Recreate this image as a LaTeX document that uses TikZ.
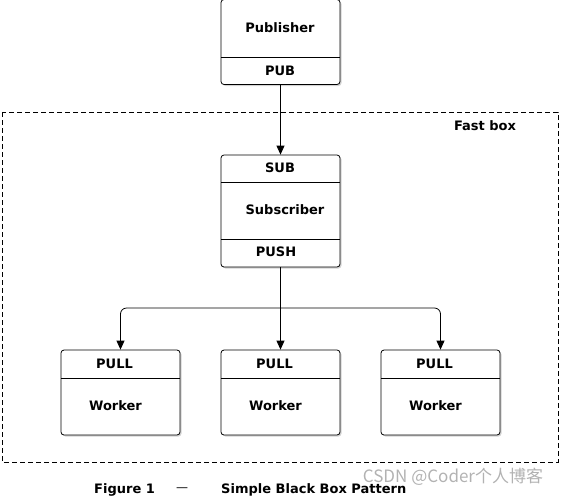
\documentclass[tikz,border=0pt]{standalone}
\usepackage{fontspec}
\setmainfont{DejaVu Sans}
\newfontfamily\cjk{Noto Sans CJK SC}
\usetikzlibrary{arrows.meta,shadows}
\tikzset{
  box/.style={draw, thick, fill=white, rounded corners=3pt, drop shadow={shadow xshift=1.5pt, shadow yshift=-1.5pt, opacity=0.35}, inner sep=0pt},
  lbl/.style={font=\bfseries\fontsize{13}{15}\selectfont, inner sep=0pt},
  conn/.style={thick, -{Triangle[length=9pt,width=8pt]}},
}
\begin{document}
\begin{tikzpicture}[x=1pt,y=-1pt]
\useasboundingbox (0,0) rectangle (561,498);
% fast box
\draw[thick, dash pattern=on 5pt off 3pt] (2,112) rectangle (558,462);
\node[lbl] (fast) at (485,126) {Fast box};
% publisher
\node[box, minimum width=119pt, minimum height=85pt] (pub) at (280.5,42) {};
\draw[thick] (221,57) -- (340,57);
\node[lbl] (publ) at (280,28) {Publisher};
\node[lbl] (pubs) at (280,71) {PUB};
% subscriber
\node[box, minimum width=119pt, minimum height=112pt] (sub) at (280.5,211) {};
\draw[thick] (221,182) -- (340,182);
\draw[thick] (221,239) -- (340,239);
\node[lbl] (subs) at (280,168) {SUB};
\node[lbl] (subl) at (285,210) {Subscriber};
\node[lbl] (push) at (276,252) {PUSH};
% workers
\foreach \n/\x in {w1/120.5, w2/280.5, w3/440.5}{
  \node[box, minimum width=119pt, minimum height=85pt] (\n) at (\x,392.5) {};
  \draw[thick] (\x-59.5,378) -- (\x+59.5,378);
  \node[lbl] (\n p) at (\x-6,364) {PULL};
  \node[lbl] (\n l) at (\x-5,406) {Worker};
}
% connectors
\draw[conn] (pub.south) -- (sub.north);
\coordinate (j) at (280.5,308);
\draw[conn] (sub.south) -- (w2.north);
\draw[conn, rounded corners=6pt] (j) -| (w1.north);
\draw[conn, rounded corners=6pt] (j) -| (w3.north);
% caption
\node[lbl, anchor=west] (fig) at (94,490) {Figure 1};
\node[font=\fontsize{12}{14}\selectfont, inner sep=0pt] (dash) at (182,490) {—};
\node[lbl, anchor=west] (cap) at (221,490) {Simple Black Box Pattern};
\node[font=\cjk\fontsize{17}{19}\selectfont, text=black!30, inner sep=0pt] (wm) at (453,477) {CSDN @Coder个人博客};
\end{tikzpicture}
\end{document}
